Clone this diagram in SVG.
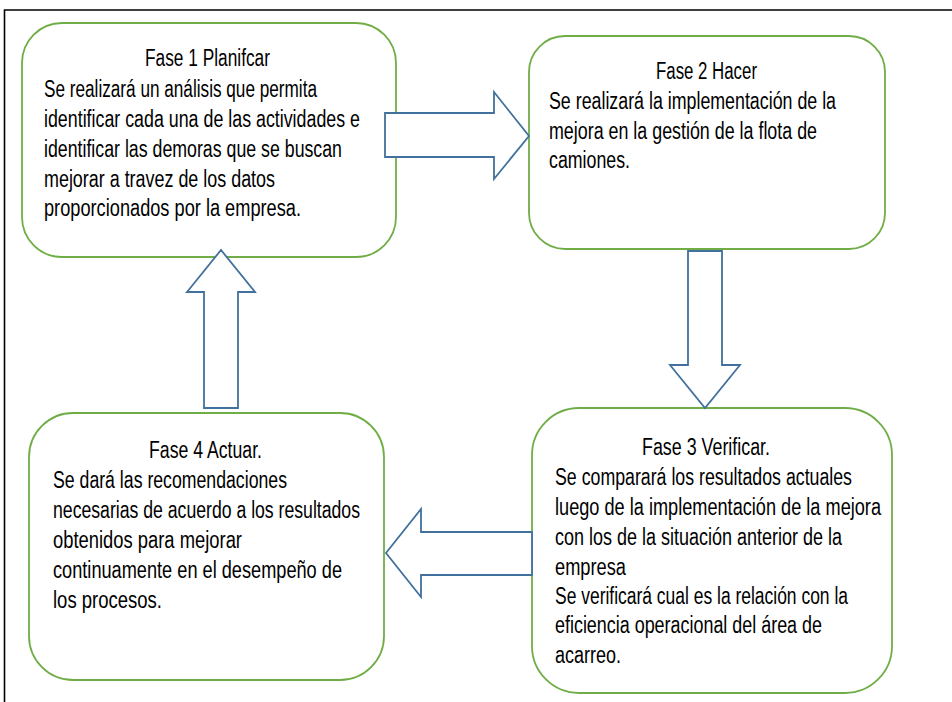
<svg xmlns="http://www.w3.org/2000/svg" width="952" height="702" viewBox="0 0 952 702">
<style>
.box{fill:#fff;stroke:#70AD47;stroke-width:1.8}
.arr{fill:#fff;stroke:#41719C;stroke-width:1.8;stroke-linejoin:miter}
text{font-family:"Liberation Sans",Arial,sans-serif;font-size:23px;fill:#000}
.frame{stroke:#000;stroke-width:1.6;fill:none}
</style>
<rect width="952" height="702" fill="#fff"/>
<path class="frame" d="M4.5 702 V10 H952"/>
<g id="fase1">
<rect class="box" x="22" y="23" width="374" height="234" rx="40" ry="40"/>
<text x="145" y="66" textLength="125" lengthAdjust="spacingAndGlyphs">Fase 1 Planifcar</text>
<text x="44" y="97" textLength="273" lengthAdjust="spacingAndGlyphs">Se realizará un análisis que permita</text>
<text x="44" y="127" textLength="316" lengthAdjust="spacingAndGlyphs">identificar cada una de las actividades e</text>
<text x="44" y="157" textLength="298" lengthAdjust="spacingAndGlyphs">identificar las demoras que se buscan</text>
<text x="44" y="187" textLength="231" lengthAdjust="spacingAndGlyphs">mejorar a travez de los datos</text>
<text x="44" y="216" textLength="257" lengthAdjust="spacingAndGlyphs">proporcionados por la empresa.</text>
</g>
<g id="fase2">
<rect class="box" x="529" y="36" width="356" height="213" rx="36" ry="36"/>
<text x="656" y="79" textLength="101" lengthAdjust="spacingAndGlyphs">Fase 2 Hacer</text>
<text x="549" y="109" textLength="287" lengthAdjust="spacingAndGlyphs">Se realizará la implementación de la</text>
<text x="549" y="139" textLength="268" lengthAdjust="spacingAndGlyphs">mejora en la gestión de la flota de</text>
<text x="549" y="168" textLength="81" lengthAdjust="spacingAndGlyphs">camiones.</text>
</g>
<g id="fase3">
<rect class="box" x="532" y="408" width="360" height="285" rx="47" ry="47"/>
<text x="642" y="455" textLength="128" lengthAdjust="spacingAndGlyphs">Fase 3 Verificar.</text>
<text x="555" y="485" textLength="297" lengthAdjust="spacingAndGlyphs">Se comparará los resultados actuales</text>
<text x="555" y="515" textLength="326" lengthAdjust="spacingAndGlyphs">luego de la implementación de la mejora</text>
<text x="555" y="545" textLength="287" lengthAdjust="spacingAndGlyphs">con los de la situación anterior de la</text>
<text x="555" y="575" textLength="71" lengthAdjust="spacingAndGlyphs">empresa</text>
<text x="555" y="604" textLength="293" lengthAdjust="spacingAndGlyphs">Se verificará cual es la relación con la</text>
<text x="555" y="633" textLength="267" lengthAdjust="spacingAndGlyphs">eficiencia operacional del área de</text>
<text x="555" y="663" textLength="66" lengthAdjust="spacingAndGlyphs">acarreo.</text>
</g>
<g id="fase4">
<rect class="box" x="29" y="413" width="355" height="267" rx="44" ry="44"/>
<text x="149" y="458" textLength="113" lengthAdjust="spacingAndGlyphs">Fase 4 Actuar.</text>
<text x="53" y="488" textLength="234" lengthAdjust="spacingAndGlyphs">Se dará  las recomendaciones</text>
<text x="53" y="518" textLength="307" lengthAdjust="spacingAndGlyphs">necesarias de acuerdo a los resultados</text>
<text x="53" y="548" textLength="189" lengthAdjust="spacingAndGlyphs">obtenidos para mejorar</text>
<text x="53" y="578" textLength="289" lengthAdjust="spacingAndGlyphs">continuamente en el desempeño de</text>
<text x="53" y="608" textLength="109" lengthAdjust="spacingAndGlyphs">los procesos.</text>
</g>
<g id="connectors">
<path id="arrow-1-2" class="arr" d="M385 113 H494 V92 L529 136 L494 179 V157 H385 Z"/>
<path id="arrow-2-3" class="arr" d="M688 251 H722 V365 H740 L705 408 L670 365 H688 Z"/>
<path id="arrow-3-4" class="arr" d="M532 532 H421 V509 L386 553 L421 597 V575 H532 Z"/>
<path id="arrow-4-1" class="arr" d="M204 408 V292 H187 L221 250 L255 292 H238 V408 Z"/>
</g>
</svg>
